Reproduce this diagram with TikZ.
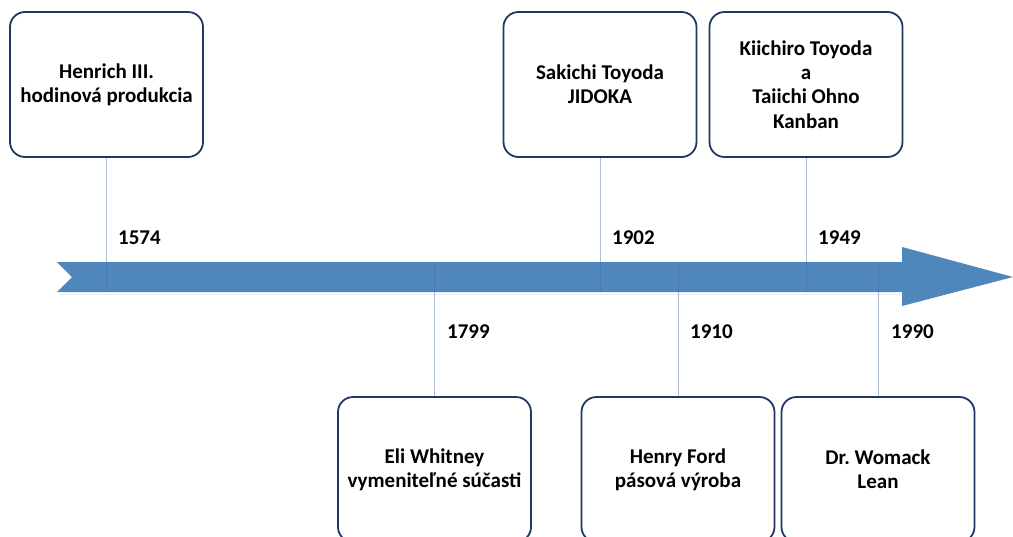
\documentclass[tikz,border=0pt]{standalone}
\usepackage{fontspec}
\setmainfont{Carlito}
\definecolor{arrowblue}{HTML}{4F86BC}
\definecolor{boxnavy}{HTML}{1F3864}
\definecolor{tickblue}{HTML}{3F6797}
\begin{document}
\begin{tikzpicture}[x=1pt,y=-1pt,
  event/.style={draw=boxnavy,line width=1.8pt,fill=white,rounded corners=15pt,
    minimum width=193pt,minimum height=145pt,inner sep=0pt,
    align=center,font=\fontsize{21}{24.3}\selectfont\bfseries\frenchspacing},
  year/.style={anchor=west,inner sep=0pt,font=\fontsize{21}{24}\selectfont\bfseries},
  tick/.style={draw=tickblue,draw opacity=0.42,line width=1pt}]
\useasboundingbox (0,0) rectangle (1013,536);
\clip (0,0) rectangle (1013,536);

% timeline arrow with notched tail and a faint shadow
\fill[arrowblue!60!white,opacity=0.25] (59,295) -- (905,295) -- (905,294) -- (59,294) -- cycle;
\fill[arrowblue] (57,262) -- (902,262) -- (902,247) -- (1013,277) -- (902,306)
  -- (902,292) -- (57,292) -- (72,277) -- cycle;

% event boxes
\node[event] (henrich) at (106.5,84.5) {Henrich III.\\hodinová produkcia};
\node[event] (sakichi) at (600,84.5) {Sakichi Toyoda\\JIDOKA};
\node[event] (kiichiro) at (806,84.5) {Kiichiro Toyoda\\a\\Taiichi Ohno\\Kanban};
\node[event] (whitney) at (434.5,469.5) {Eli Whitney\\vymeniteľné súčasti};
\node[event] (ford) at (678,469.5) {Henry Ford\\pásová výroba};
\node[event] (womack) at (878,469.5) {Dr. Womack\\Lean};

% points on the timeline
\coordinate (t1574) at (106,292);
\coordinate (t1902) at (600,292);
\coordinate (t1949) at (806,292);
\coordinate (t1799) at (434,262);
\coordinate (t1910) at (678,262);
\coordinate (t1990) at (878,262);

% tick connectors
\draw[tick] (henrich.south -| t1574) -- (t1574);
\draw[tick] (sakichi.south -| t1902) -- (t1902);
\draw[tick] (kiichiro.south -| t1949) -- (t1949);
\draw[tick] (t1799) -- (whitney.north -| t1799);
\draw[tick] (t1910) -- (ford.north -| t1910);
\draw[tick] (t1990) -- (womack.north -| t1990);

% year labels
\node[year] (y1574) at (118,238) {1574};
\node[year] (y1902) at (612,238) {1902};
\node[year] (y1949) at (818,238) {1949};
\node[year] (y1799) at (447,332) {1799};
\node[year] (y1910) at (690,332) {1910};
\node[year] (y1990) at (891,332) {1990};
\end{tikzpicture}
\end{document}
